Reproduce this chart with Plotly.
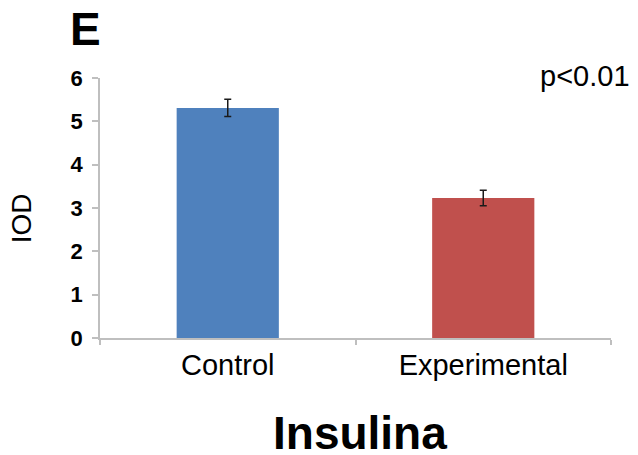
import plotly.graph_objects as go

categories = ["Control", "Experimental"]
values = [5.31, 3.23]
errors = [0.2, 0.18]
colors = ["#4F81BD", "#C0504D"]
y_ticks = [0, 1, 2, 3, 4, 5, 6]

fig = go.Figure()
fig.add_trace(go.Bar(
    x=categories, y=values, width=0.4,
    marker=dict(color=colors, line=dict(width=0)),
    error_y=dict(type="data", array=errors, visible=True, color="#1a1a1a",
                 thickness=1.5, width=3.5),
))

axis_color = "#BFBFBF"
# page body has an 8px default margin, so the figure is sized/offset to compensate
fig.update_layout(
    width=630, height=447,
    margin=dict(l=92, r=27, t=70, b=117),
    paper_bgcolor="white", plot_bgcolor="white",
    showlegend=False,
    font=dict(family="Liberation Sans, Arial, sans-serif", color="black"),
    xaxis=dict(
        showline=True, linecolor=axis_color, linewidth=1.5,
        ticks="outside", tickson="boundaries", ticklen=5, tickcolor=axis_color,
        tickwidth=1.5, tickfont=dict(size=29, color="black"),
        showgrid=False, zeroline=False, range=[-0.5, 1.5],
    ),
    yaxis=dict(
        range=[0, 6], tickvals=y_ticks, ticktext=[str(v) for v in y_ticks],
        showline=True, linecolor=axis_color, linewidth=1.5,
        ticks="outside", ticklen=6, tickcolor=axis_color, tickwidth=1.5,
        tickfont=dict(size=22, color="black", weight="bold"),
        ticklabelstandoff=5,
        showgrid=False, zeroline=False,
    ),
    annotations=[
        dict(text="<b>E</b>", xref="paper", yref="paper", x=-0.0626, y=1.19,
             xanchor="left", yanchor="middle", showarrow=False,
             font=dict(size=46, color="black")),
        dict(text="p<0.01", xref="paper", yref="paper", x=1.041, y=1.008,
             xanchor="right", yanchor="middle", showarrow=False,
             font=dict(size=29, color="black")),
        dict(text="<b>Insulina</b>", xref="paper", yref="paper", x=0.509, y=-0.365,
             xanchor="center", yanchor="middle", showarrow=False,
             font=dict(size=46, color="black")),
        dict(text="IOD", xref="paper", yref="paper", x=-0.153, y=0.46,
             xanchor="center", yanchor="middle", showarrow=False, textangle=-90,
             font=dict(size=28, color="black")),
    ],
)

fig.write_html("out.html")
